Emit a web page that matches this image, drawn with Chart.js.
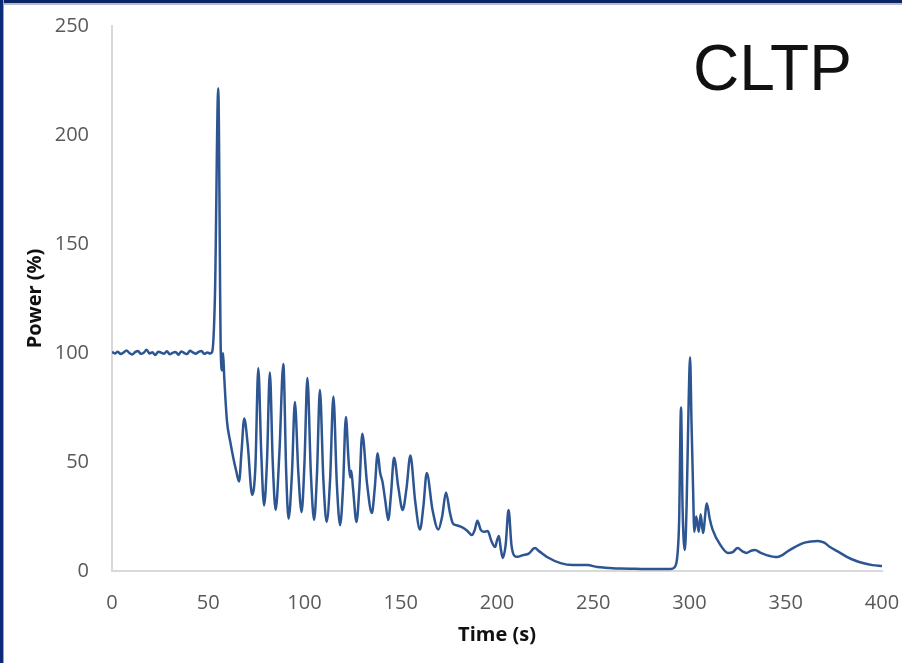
<!DOCTYPE html>
<html>
<head>
<meta charset="utf-8">
<script src="https://cdn.jsdelivr.net/npm/chart.js@4"></script>
<style>
  html, body { margin: 0; padding: 0; background: #ffffff; }
  #wrap { position: relative; width: 902px; height: 663px; overflow: hidden; background: #fff; }
  #c { position: absolute; left: 0; top: 0; }
  #bt { position: absolute; left: 0; top: 0; width: 902px; height: 3px; background: #0c2566; }
  #bt2 { position: absolute; left: 0; top: 3px; width: 902px; height: 2px; background: #b9bcc4; }
  #bl { position: absolute; left: 0; top: 0; width: 3px; height: 663px; background: #0c2a78; }
  #bl2 { position: absolute; left: 3px; top: 0; width: 1px; height: 663px; background: #9aa3b8; }
  #ttl { position: absolute; left: 693px; top: 30px; font-family: "Liberation Sans", Arial, sans-serif; font-size: 64px; color: #111; line-height: 76px; }
</style>
</head>
<body>
<div id="wrap">
  <canvas id="c" width="902" height="663"></canvas>
  <div id="bt"></div><div id="bt2"></div><div id="bl"></div><div id="bl2"></div>
  <div id="ttl">CLTP</div>
</div>
<script>
// ---- data ----
const timeSec = [
  0,1.5,3,4.5,6,7.5,9,10.5,12,13.5,15,16.5,18,19.5,21,22.5,24,25.5,27,28.5,30,31.5,33,34.5,36,37.5,39,40.5,42,43.5,45,46.5,48,49.5,51,52,
  53.5,55.2,56.5,57.2,57.7,58.3,59.7,61.5,63,64.5,66,67.3,68.7,70.5,72.8,74.5,76,77.5,79,80.5,82,83.5,85,87,89,90.5,91.7,93.5,95,96.8,98.5,100,
  101.5,103.3,105,106.5,108,109.8,111.5,113.3,115,116.8,118.5,120,121.5,122.8,123.7,124.3,125.2,127,128.5,130,132.5,135,136.5,138,139.3,140.5,142,143.5,
  145,146.5,148.8,151,153,155,157.5,160,161.8,163.5,166.5,169.5,171.5,173.5,175.5,177,179,182,184.5,187,188.5,189.8,191.5,193,195.2,197,199,200,
  201,202,203,204.5,206,207.5,209,210.5,213.5,216.5,219.7,222,226,233,239.5,247,252,258,264,272,281,290,
  292.5,293.8,294.6,295.6,296.4,297.6,298.5,299.5,300.3,301,301.8,302.5,303.5,304.8,305.8,307,309,310.5,312,316,320,322.5,325,327.5,329.6,332,334,337,340,
  345.5,352,359,363,366.6,370,373,377,382,386,390,395,400
];
const powerPct = [
  100.5,99.8,100.6,99.5,100.2,101.2,100,99.3,100.4,100.9,99.6,100.1,101.5,99.8,100.3,99.1,100.6,100.2,99.7,100.8,99.4,100.1,100.5,99.2,100.7,100,99.5,101,100.3,99.7,100.5,100.9,99.6,100.2,99.8,100.4,
  127,221.5,101,92,100,89,69,59,52,46,41,55,70,58,35,48,93,55,30,50,91,50,28,55,95,45,24,45,77.5,45,27,50,
  88.5,45,23.4,45,83,42,22.5,42,80,40,21,38,70.6,52,43,46,38,22.5,38,63,40,26.6,38,54,45,41,32,23.4,
  36,52,38,28,38,53,32,19,30,45,28,19,25,36,27,22,21,20,18.5,16.5,19,23,19,18,18.3,14,11,14,
  16,10,6,12,28,12,7,6.5,7.3,8,10.5,9,6.4,3.6,2.7,2.7,1.8,1.4,1.1,1,0.9,0.9,
  2,8,22.5,75,29,9.6,30,75,98,70,40,18,25,18,26,17.4,31,24,19,12,8.3,8.7,10.5,9,8.3,9.3,9.6,8.3,7.3,
  6.4,9.6,12.8,13.5,13.8,13,11,9,6.4,4.8,3.7,2.7,2.3
];
const xTicks = [0, 50, 100, 150, 200, 250, 300, 350, 400];
const yTicks = [0, 50, 100, 150, 200, 250];
const xTitle = 'Time (s)';
const yTitle = 'Power (%)';

const points = timeSec.map((t, i) => ({ x: t, y: powerPct[i] }));

new Chart(document.getElementById('c'), {
  type: 'line',
  data: {
    datasets: [{
      data: points,
      borderColor: '#2d5592',
      borderWidth: 2.5,
      pointRadius: 0,
      fill: false,
      cubicInterpolationMode: 'monotone'
    }]
  },
  options: {
    responsive: false,
    animation: false,
    events: [],
    layout: { padding: { left: 0, right: 20, top: 26, bottom: 0 } },
    plugins: { legend: { display: false }, tooltip: { enabled: false } },
    scales: {
      x: {
        type: 'linear', min: 0, max: 400,
        afterBuildTicks: s => { s.ticks = xTicks.map(v => ({ value: v })); },
        afterFit: s => { s.height = 92; s.paddingLeft = 0; s.paddingRight = 0; },
        grid: { display: false, drawTicks: false },
        border: { display: true, color: '#d9d9d9', width: 2 },
        ticks: { padding: 20, color: '#595959', font: { family: 'Open Sans', size: 20 } },
        title: { display: true, text: xTitle, color: '#111', padding: { top: 0, bottom: 16 }, font: { family: 'Open Sans', size: 20, weight: 'bold' } }
      },
      y: {
        min: 0, max: 250,
        afterBuildTicks: s => { s.ticks = yTicks.map(v => ({ value: v })); },
        afterFit: s => { s.width = 112; s.paddingTop = 0; s.paddingBottom = 0; },
        grid: { display: false, drawTicks: false },
        border: { display: true, color: '#d9d9d9', width: 2 },
        ticks: { padding: 23, color: '#595959', font: { family: 'Open Sans', size: 20 } },
        title: { display: true, text: yTitle, color: '#111', padding: { top: 23, bottom: 0 }, font: { family: 'Open Sans', size: 20, weight: 'bold' } }
      }
    }
  }
});
</script>
</body>
</html>
